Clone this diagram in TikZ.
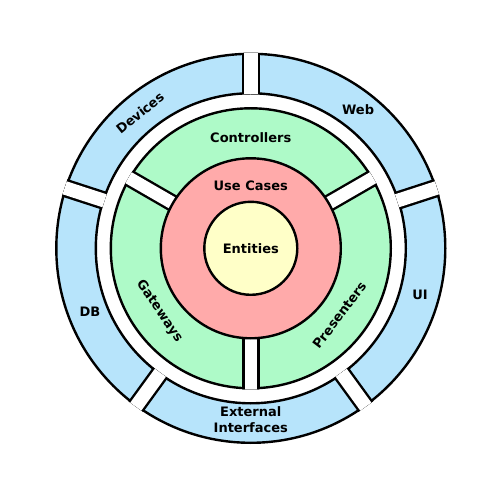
\documentclass[tikz,border=0pt]{standalone}
\usepackage{fontspec}
\setmainfont{DejaVu Sans}
\begin{document}
\begin{tikzpicture}[x=1pt,y=1pt,line width=2.4pt,
  lbl/.style={font=\bfseries\fontsize{13}{16.5}\selectfont,text=black,inner sep=0pt,align=center}]
\definecolor{ringblue}{RGB}{183,228,251}
\definecolor{ringgreen}{RGB}{174,250,200}
\definecolor{ringred}{RGB}{255,170,170}
\definecolor{coreyellow}{RGB}{255,255,200}
\useasboundingbox (-250.8,-251.7) rectangle (249.2,248.3);

% outer ring: frameworks and drivers, five segments
\fill[ringblue,even odd rule] (0,0) circle (194.5) (0,0) circle (155);
\draw (0,0) circle (194.5) (0,0) circle (155);
\foreach \a in {18,90,162,234,306} {
  \draw[line width=18.4pt] (\a:153.8) -- (\a:195.7);
  \draw[white,line width=13.6pt] (\a:153.8) -- (\a:195.7);
}

% interface adapters ring, three segments
\filldraw[fill=ringgreen] (0,0) circle (140);
\begin{scope}
  \clip (0,0) circle (141.2);
  \foreach \a in {30,150,270} {
    \draw[line width=17.4pt] (0,0) -- (\a:150);
    \draw[white,line width=12.6pt] (0,0) -- (\a:150);
  }
\end{scope}

% use cases and entities
\filldraw[fill=ringred] (0,0) circle (90);
\filldraw[fill=coreyellow] (0,0) circle (46.5);

% labels
\node[lbl] (entities) at (0,0) {Entities};
\node[lbl] (usecases) at (0,62.6) {Use Cases};
\node[lbl] (controllers) at (0,110.5) {Controllers};
\node[lbl,rotate=-55.5] (gateways) at (214.5:111) {Gateways};
\node[lbl,rotate=53] (presenters) at (-37:111) {Presenters};
\node[lbl,rotate=39] (devices) at (129.3:175) {Devices};
\node[lbl] (web) at (52.2:175) {Web};
\node[lbl] (ui) at (-15.4:175.5) {UI};
\node[lbl] (db) at (201.6:173) {DB};
\node[lbl] (external) at (270:171.5) {External\\Interfaces};
\end{tikzpicture}
\end{document}
